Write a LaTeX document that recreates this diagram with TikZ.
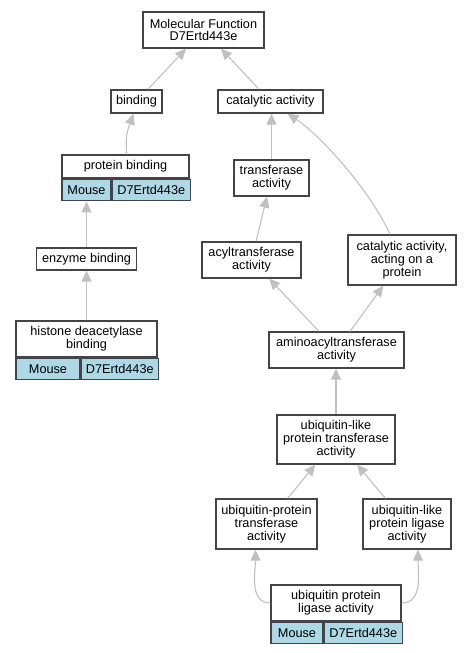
\documentclass[tikz,border=0pt]{standalone}
\usepackage{fontspec}
\setmainfont{Liberation Sans}
\usetikzlibrary{arrows.meta, positioning}

\definecolor{boxline}{RGB}{68,68,68}
\definecolor{isaline}{RGB}{192,192,192}
\definecolor{taxon}{RGB}{173,216,230}

\tikzset{
  term/.style={draw=boxline, line width=1.3pt, fill=white, align=center,
    inner sep=0pt, font=\fontsize{12.7}{12.8}\selectfont},
  cell/.style={term, fill=taxon, minimum height=21.5pt, anchor=north west},
  isa/.style={draw=isaline, line width=1.1pt,
    -{Triangle[length=11pt, width=10pt]}}
}

\begin{document}
\begin{tikzpicture}[x=1pt, y=-1pt]
  \useasboundingbox (0,0) rectangle (471,653);

  % left branch
  \node[term, minimum width=121pt, minimum height=36pt] (mf) at (203.5,30) {Molecular Function\\D7Ertd443e};
  \node[term, minimum width=51pt, minimum height=23pt] (bind) at (136.5,101.5) {binding};
  \node[term, minimum width=105pt, minimum height=23pt] (cat) at (270.5,101.5) {catalytic activity};
  \node[term, minimum width=127pt, minimum height=23pt] (pb) at (125.5,166.5) {protein binding};
  \node[cell, minimum width=49pt] (pbm) at (pb.south west) {Mouse};
  \node[cell, minimum width=78pt] (pbg) [right=0pt of pbm] {D7Ertd443e};
  \node[term, minimum width=100pt, minimum height=22pt] (enz) at (86.5,259) {enzyme binding};
  \node[term, minimum width=141pt, minimum height=36pt] (hdb) at (86.5,339) {histone deacetylase\\binding};
  \node[cell, minimum width=64pt] (hdbm) at (hdb.south west) {Mouse};
  \node[cell, minimum width=77pt] (hdbg) [right=0pt of hdbm] {D7Ertd443e};

  % right branch
  \node[term, minimum width=75pt, minimum height=36pt] (trans) at (271.5,178) {transferase\\activity};
  \node[term, minimum width=99pt, minimum height=36pt] (acyl) at (251.5,260) {acyltransferase\\activity};
  \node[term, minimum width=108pt, minimum height=50pt] (caop) at (402,260) {catalytic activity,\\acting on a\\protein};
  \node[term, minimum width=135pt, minimum height=36pt] (amino) at (336.5,350) {aminoacyltransferase\\activity};
  \node[term, minimum width=118pt, minimum height=49pt] (ulpt) at (336,439.5) {ubiquitin-like\\protein transferase\\activity};
  \node[term, minimum width=101pt, minimum height=50pt] (upt) at (266.5,524) {ubiquitin-protein\\transferase\\activity};
  \node[term, minimum width=88pt, minimum height=50pt] (ullig) at (407,524) {ubiquitin-like\\protein ligase\\activity};
  \node[term, minimum width=130pt, minimum height=36pt] (upla) at (336,603) {ubiquitin protein\\ligase activity};
  \node[cell, minimum width=52pt] (uplam) at (upla.south west) {Mouse};
  \node[cell, minimum width=78pt] (uplag) [right=0pt of uplam] {D7Ertd443e};

  % is_a edges
  \draw[isa] (bind) -- (mf);
  \draw[isa] (cat) -- (mf);
  \draw[isa] ([xshift=1pt]pb.north) .. controls (126,135) .. ([xshift=-3pt]bind.south);
  \draw[isa] (trans.north) -- (trans.north |- cat.south);
  \draw[isa] ([xshift=-12pt]caop.north) .. controls (370,190) and (320,135) .. ([xshift=17pt]cat.south);
  \draw[isa] (enz.north) -- (pbm.south);
  \draw[isa] (hdb.north) -- (enz.south);
  \draw[isa] (acyl) -- (trans);
  \draw[isa] (amino) -- (acyl);
  \draw[isa] (amino) -- (caop);
  \draw[isa] (ulpt.north) -- (ulpt.north |- amino.south);
  \draw[isa] (upt) -- (ulpt);
  \draw[isa] (ullig) -- (ulpt);
  \draw[isa] (upla.west) to[out=180, in=-90] ([xshift=-11pt]upt.south);
  \draw[isa] (upla.east) to[out=0, in=-90] ([xshift=11pt]ullig.south);
\end{tikzpicture}
\end{document}
